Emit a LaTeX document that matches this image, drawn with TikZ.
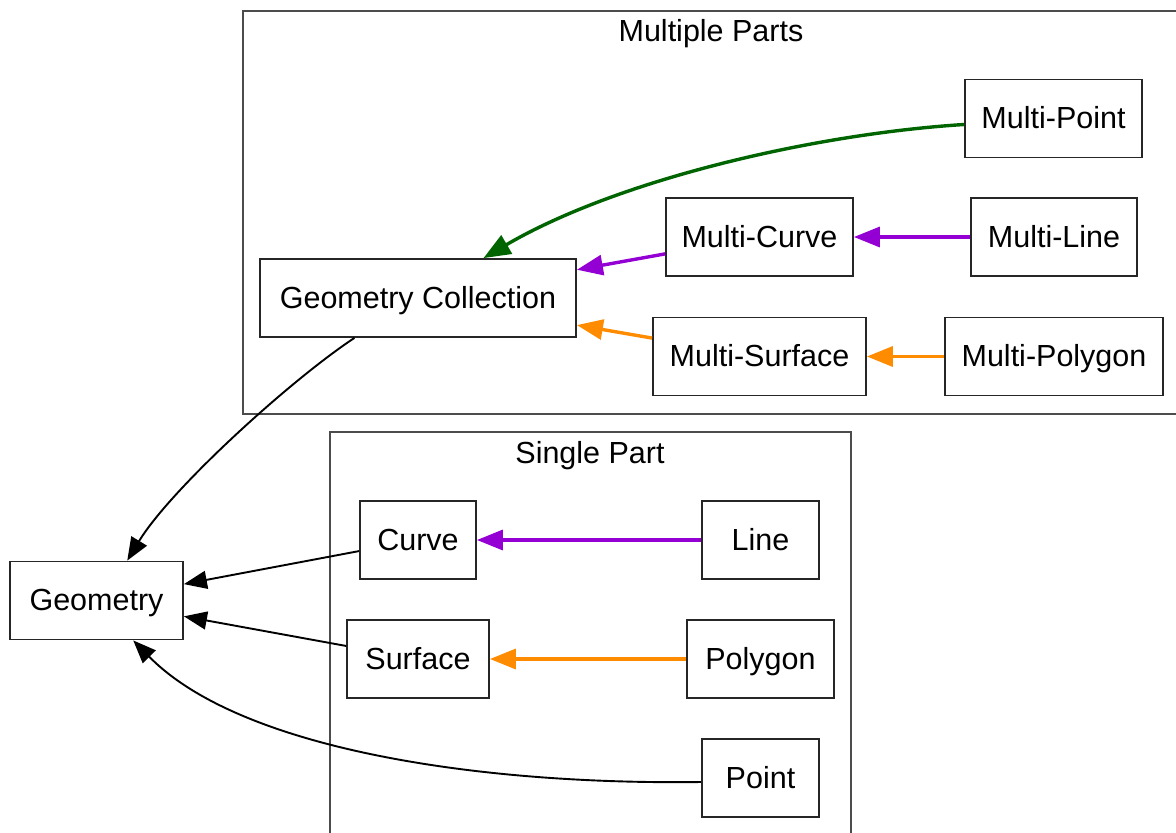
\documentclass[tikz,border=0pt]{standalone}
\usepackage{fontspec}
\setmainfont{Liberation Sans}
\usetikzlibrary{arrows.meta,calc}
\definecolor{edgegreen}{RGB}{0,100,0}
\definecolor{edgeviolet}{RGB}{148,0,211}
\definecolor{edgeorange}{RGB}{255,140,0}
\tikzset{
  labelfont/.style={font=\fontsize{30.5}{36}\selectfont},
  box/.style={draw=black!85, line width=1.8pt, inner sep=0pt, minimum height=78pt,
    text height=21pt, text depth=1pt, fill=white, labelfont},
  cluster/.style={draw=black!70, line width=2pt},
  blackedge/.style={draw=black, line width=1.9pt, -{Triangle[length=23pt,width=18pt]}},
  violetedge/.style={draw=edgeviolet, line width=3.4pt, -{Triangle[length=26pt,width=20pt]}},
  orangeedge/.style={draw=edgeorange, line width=3.4pt, -{Triangle[length=26pt,width=20pt]}},
  greenedge/.style={draw=edgegreen, line width=3.4pt, -{Triangle[length=27pt,width=21pt]}},
}
\begin{document}
\begin{tikzpicture}[x=1pt,y=-1pt]
\useasboundingbox (0,0) rectangle (1176,833);
\fill[white] (0,0) rectangle (1176,833);
\clip (0,0) rectangle (1176,833);

% clusters
\draw[cluster] (243,11) rectangle (1190,414);
\node[labelfont] (lblmulti) at (711,34) {Multiple Parts};
\draw[cluster] (330,432) rectangle (851,850);
\node[labelfont] (lblsingle) at (590,456) {Single Part};

% multi-part geometries
\node[box, minimum width=177pt] (mpoint) at (1053.5,118.5) {Multi-Point};
\node[box, minimum width=187pt] (mcurve) at (759.5,237) {Multi-Curve};
\node[box, minimum width=166pt] (mline)  at (1054,237) {Multi-Line};
\node[box, minimum width=316pt] (gc)     at (418,298) {Geometry Collection};
\node[box, minimum width=213pt] (msurf)  at (759.5,356.5) {Multi-Surface};
\node[box, minimum width=218pt] (mpoly)  at (1054,356.5) {Multi-Polygon};

% single-part geometries
\node[box, minimum width=116pt] (ncurve)   at (418,540) {Curve};
\node[box, minimum width=117pt] (nline)    at (760.5,540) {Line};
\node[box, minimum width=142pt] (nsurface) at (418,659) {Surface};
\node[box, minimum width=147pt] (npolygon) at (760.5,659) {Polygon};
\node[box, minimum width=117pt] (npoint)   at (760.5,778) {Point};

% root
\node[box, minimum width=173pt] (geom) at (96.5,600.5) {Geometry};

% inheritance edges
\draw[greenedge] ([yshift=-6pt]mpoint.west) .. controls +(-145,9) and +(137,-80) .. ($(gc.north west)!0.706!(gc.north east)$);
\draw[violetedge] (mline) -- (mcurve);
\draw[violetedge] (mcurve) -- (gc);
\draw[orangeedge] (mpoly) -- (msurf);
\draw[orangeedge] (msurf) -- (gc);

\draw[blackedge] ($(gc.south west)!0.30!(gc.south east)$) .. controls +(-65,43) and +(43,-71) .. ($(geom.north west)!0.676!(geom.north east)$);
\draw[violetedge] (nline) -- (ncurve);
\draw[orangeedge] (npolygon) -- (nsurface);
\draw[blackedge] (ncurve) -- (geom);
\draw[blackedge] (nsurface) -- (geom);
\draw[blackedge] ([yshift=-4pt]npoint.west) .. controls +(-222,3) and +(107,109) .. ($(geom.south west)!0.71!(geom.south east)$);
\end{tikzpicture}
\end{document}
